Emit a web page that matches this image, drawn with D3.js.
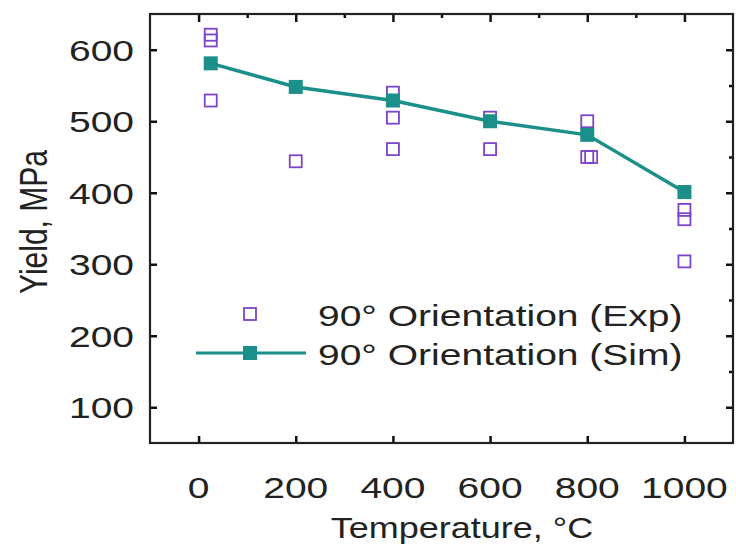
<!DOCTYPE html>
<html>
<head>
<meta charset="utf-8">
<script src="https://cdn.jsdelivr.net/npm/d3@7"></script>
<style>
  body { margin: 0; background: #fff; }
  text { font-family: "Liberation Sans", Arial, sans-serif; fill: #222; }
</style>
</head>
<body>
<div id="grafico"></div>
<script>
// Dados
const tempTicks = [0, 200, 400, 600, 800, 1000];
const tempMinor = [100, 300, 500, 700, 900];
const yieldTicks = [100, 200, 300, 400, 500, 600];
const yieldMinor = [150, 250, 350, 450, 550];

const simTemp = [25, 200, 400, 600, 800, 1000];
const simYield = [581, 548, 529, 500, 481, 401];

const expTemp = [25, 25, 25, 200, 400, 400, 400, 600, 600, 800, 800, 808, 1000, 1000, 1000];
const expYield = [621, 613, 529, 444, 540, 505, 461, 505, 461, 500, 450, 450, 376, 363, 304];

const seriesNames = ["90° Orientation (Exp)", "90° Orientation (Sim)"];

function criarGrafico() {
    const largura = 736, altura = 546;
    const margem = { top: 14, right: 3, bottom: 103, left: 150 };
    const corSim = "#1b8f89";
    const corExp = "#7b44c9";
    const fonte = 30, esticar = 1.3;

    const svg = d3.select("#grafico").append("svg")
        .attr("width", largura).attr("height", altura);

    const x = d3.scaleLinear().domain([-100, 1100])
        .range([margem.left, largura - margem.right]);
    const y = d3.scaleLinear().domain([50, 650])
        .range([altura - margem.bottom, margem.top]);

    // texto esticado na horizontal como no original
    function texto(g, px, py, s, anchor, sx = esticar) {
        return g.append("text")
            .attr("transform", `translate(${px},${py}) scale(${sx},1)`)
            .attr("text-anchor", anchor)
            .attr("font-size", fonte)
            .text(s);
    }

    // eixos com ticks para dentro
    svg.append("g")
        .attr("transform", `translate(0,${y.range()[0]})`)
        .call(d3.axisBottom(x).tickValues(tempTicks).tickSizeInner(-7).tickSizeOuter(0).tickFormat(""));
    svg.append("g")
        .attr("transform", `translate(0,${y.range()[1]})`)
        .call(d3.axisTop(x).tickValues(tempTicks).tickSizeInner(-8).tickSizeOuter(0).tickFormat(""));
    svg.append("g")
        .attr("transform", `translate(0,${y.range()[1]})`)
        .call(d3.axisTop(x).tickValues(tempMinor).tickSizeInner(-4).tickSizeOuter(0).tickFormat(""));
    svg.append("g")
        .attr("transform", `translate(${x.range()[0]},0)`)
        .call(d3.axisLeft(y).tickValues(yieldTicks).tickSizeInner(-7).tickSizeOuter(0).tickFormat(""));
    svg.append("g")
        .attr("transform", `translate(${x.range()[1]},0)`)
        .call(d3.axisRight(y).tickValues(yieldTicks).tickSizeInner(-7).tickSizeOuter(0).tickFormat(""));
    svg.append("g")
        .attr("transform", `translate(${x.range()[1]},0)`)
        .call(d3.axisRight(y).tickValues(yieldMinor).tickSizeInner(-4).tickSizeOuter(0).tickFormat(""));
    svg.selectAll(".domain").remove();
    svg.selectAll(".tick line").attr("stroke", "#111").attr("stroke-width", 2.5);

    // moldura
    svg.append("rect")
        .attr("x", x.range()[0]).attr("y", y.range()[1])
        .attr("width", x.range()[1] - x.range()[0])
        .attr("height", y.range()[0] - y.range()[1])
        .attr("fill", "none").attr("stroke", "#222").attr("stroke-width", 2.2);

    // rótulos dos ticks
    const rot = svg.append("g");
    tempTicks.forEach(t => texto(rot, x(t), 498, t, "middle"));
    yieldTicks.forEach(v => texto(rot, 134, y(v) + 11, v, "end"));

    // títulos dos eixos
    texto(svg, 462, 538, "Temperature, °C", "middle", 1.2);
    svg.append("text")
        .attr("transform", `translate(47,${222}) rotate(-90) scale(1,${esticar})`)
        .attr("text-anchor", "middle")
        .attr("font-size", fonte)
        .text("Yield, MPa");

    // linha simulada
    const linha = d3.line().x((d, i) => x(simTemp[i])).y(d => y(d));
    svg.append("path").datum(simYield)
        .attr("d", linha)
        .attr("fill", "none").attr("stroke", corSim).attr("stroke-width", 3.5);

    // pontos experimentais
    const lado = 12;
    svg.selectAll(".exp").data(expYield).enter().append("rect")
        .attr("class", "exp")
        .attr("x", (d, i) => x(expTemp[i]) - lado / 2)
        .attr("y", d => y(d) - lado / 2)
        .attr("width", lado).attr("height", lado)
        .attr("fill", "none").attr("stroke", corExp).attr("stroke-width", 1.8);

    // pontos simulados
    const ladoSim = 14;
    svg.selectAll(".sim").data(simYield).enter().append("rect")
        .attr("class", "sim")
        .attr("x", (d, i) => x(simTemp[i]) - ladoSim / 2)
        .attr("y", d => y(d) - ladoSim / 2)
        .attr("width", ladoSim).attr("height", ladoSim)
        .attr("fill", corSim);

    // legenda
    const leg = svg.append("g");
    leg.append("rect")
        .attr("x", 250 - lado / 2).attr("y", 314 - lado / 2)
        .attr("width", lado).attr("height", lado)
        .attr("fill", "none").attr("stroke", corExp).attr("stroke-width", 1.8);
    leg.append("line")
        .attr("x1", 196).attr("x2", 306).attr("y1", 353).attr("y2", 353)
        .attr("stroke", corSim).attr("stroke-width", 3);
    leg.append("rect")
        .attr("x", 250 - ladoSim / 2).attr("y", 353 - ladoSim / 2)
        .attr("width", ladoSim).attr("height", ladoSim)
        .attr("fill", corSim);
    texto(leg, 318, 326, seriesNames[0], "start");
    texto(leg, 318, 365, seriesNames[1], "start");
}

criarGrafico();
</script>
</body>
</html>
